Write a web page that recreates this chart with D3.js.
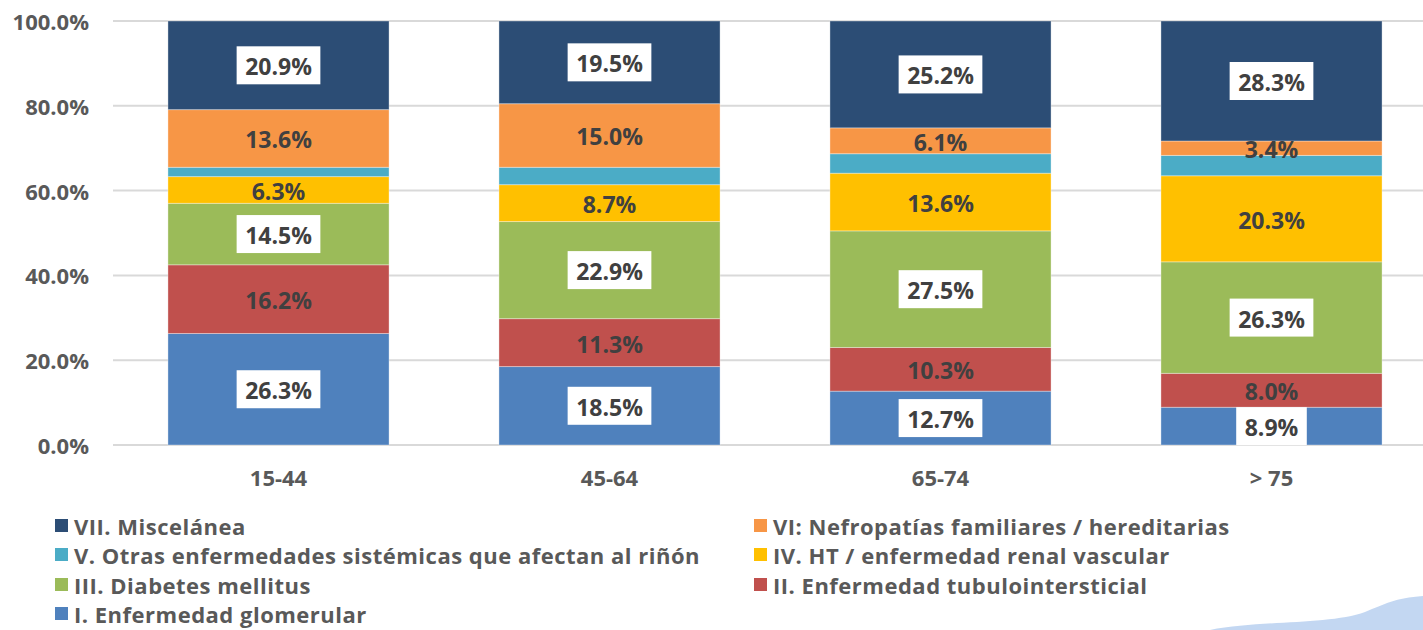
<!DOCTYPE html>
<html>
<head>
<meta charset="utf-8">
<script src="https://cdn.jsdelivr.net/npm/d3@7"></script>
<style>
  html, body { margin: 0; padding: 0; background: #fff; }
  svg { display: block; font-family: "Open Sans", "DejaVu Sans", sans-serif; font-weight: 700; }
</style>
</head>
<body>
<svg id="chart" width="1423" height="630"></svg>
<script>
const categories = ["15-44", "45-64", "65-74", "> 75"];
const seriesNames = [
  "I. Enfermedad glomerular",
  "II. Enfermedad tubulointersticial",
  "III. Diabetes mellitus",
  "IV. HT / enfermedad renal vascular",
  "V. Otras enfermedades sistémicas que afectan al riñón",
  "VI: Nefropatías familiares / hereditarias",
  "VII. Miscelánea"
];
const seriesKeys = ["I", "II", "III", "IV", "V", "VI", "VII"];
const valuesI   = [26.3, 18.5, 12.7, 8.9];
const valuesII  = [16.2, 11.3, 10.3, 8.0];
const valuesIII = [14.5, 22.9, 27.5, 26.3];
const valuesIV  = [6.3, 8.7, 13.6, 20.3];
const valuesV   = [2.2, 4.1, 4.6, 4.8];
const valuesVI  = [13.6, 15.0, 6.1, 3.4];
const valuesVII = [20.9, 19.5, 25.2, 28.3];
const yTicks = [0, 20, 40, 60, 80, 100];
const legendOrder = ["VII", "VI", "V", "IV", "III", "II", "I"];

const colors = {
  I: "#4F81BD", II: "#C0504D", III: "#9BBB59", IV: "#FFC000",
  V: "#4BACC6", VI: "#F79646", VII: "#2C4D75"
};
// label style per series: "box" = white box, "plain" = text only, null = no label
const labelStyle = { I: "box", II: "plain", III: "box", IV: "plain", V: null, VI: "plain", VII: "box" };

const allValues = [valuesI, valuesII, valuesIII, valuesIV, valuesV, valuesVI, valuesVII];
const table = categories.map((c, i) => {
  const row = { cat: c };
  seriesKeys.forEach((k, j) => row[k] = allValues[j][i]);
  return row;
});

const svg = d3.select("#chart");
const x = d3.scaleBand().domain(categories).range([113, 1437]).paddingInner(0.332).paddingOuter(0.166);
const y = d3.scaleLinear().domain([0, 100]).range([445, 21]);

// gridlines
svg.append("g").selectAll("line").data(yTicks).join("line")
  .attr("x1", 113).attr("x2", 1423)
  .attr("y1", d => y(d)).attr("y2", d => y(d))
  .attr("stroke", "#d9d9d9").attr("stroke-width", 2);

// y labels
svg.append("g").selectAll("text").data(yTicks).join("text")
  .attr("x", 89).attr("y", d => y(d))
  .attr("text-anchor", "end").attr("dominant-baseline", "central")
  .attr("fill", "#595959").attr("font-size", 22)
  .text(d => d3.format(".1f")(d) + "%");

const stack = d3.stack().keys(seriesKeys);
const stacked = stack(table);

const g = svg.append("g");
stacked.forEach(layer => {
  const k = layer.key;
  g.append("g").selectAll("rect").data(layer).join("rect")
    .attr("x", d => x(d.data.cat))
    .attr("width", x.bandwidth())
    .attr("y", d => y(d[1]))
    .attr("height", d => y(d[0]) - y(d[1]))
    .attr("fill", colors[k])
    .attr("stroke", "rgba(255,255,255,0.35)").attr("stroke-width", 1);
});

// labels
const lg = svg.append("g");
stacked.forEach(layer => {
  const k = layer.key;
  if (!labelStyle[k]) return;
  layer.forEach(d => {
    const cx = x(d.data.cat) + x.bandwidth() / 2;
    const cy = (y(d[0]) + y(d[1])) / 2;
    const txt = d3.format(".1f")(d[1] - d[0]) + "%";
    const t = lg.append("text")
      .attr("x", cx).attr("y", cy + 1)
      .attr("text-anchor", "middle").attr("dominant-baseline", "central")
      .attr("fill", "#404040").attr("font-size", 23)
      .text(txt);
    if (labelStyle[k] === "box") {
      const w = t.node().getComputedTextLength() + 17;
      lg.insert("rect", () => t.node())
        .attr("x", cx - w / 2).attr("y", cy - 19)
        .attr("width", w).attr("height", 38)
        .attr("fill", "#ffffff");
    }
  });
});

// x labels
svg.append("g").selectAll("text").data(categories).join("text")
  .attr("x", d => x(d) + x.bandwidth() / 2).attr("y", 477)
  .attr("text-anchor", "middle").attr("dominant-baseline", "central")
  .attr("fill", "#595959").attr("font-size", 22)
  .text(d => d);

// legend
const legX = [55, 754];
const legY = [526, 555, 585, 614];
const leg = svg.append("g");
legendOrder.forEach((k, i) => {
  const col = i % 2, row = Math.floor(i / 2);
  const idx = seriesKeys.indexOf(k);
  leg.append("rect")
    .attr("x", legX[col]).attr("y", legY[row] - 7)
    .attr("width", 13).attr("height", 13)
    .attr("fill", colors[k]);
  leg.append("text")
    .attr("x", legX[col] + 19).attr("y", legY[row])
    .attr("dominant-baseline", "central")
    .attr("fill", "#595959").attr("font-size", 22)
    .attr("letter-spacing", 0.5)
    .text(seriesNames[idx]);
});

// decorative logo fragment bottom-right
svg.append("path")
  .attr("d", "M1210,630 C1260,620 1330,625 1365,612 C1385,604 1395,598 1423,596 L1423,630 Z")
  .attr("fill", "#a9c6ec").attr("opacity", 0.7);
</script>
</body>
</html>
